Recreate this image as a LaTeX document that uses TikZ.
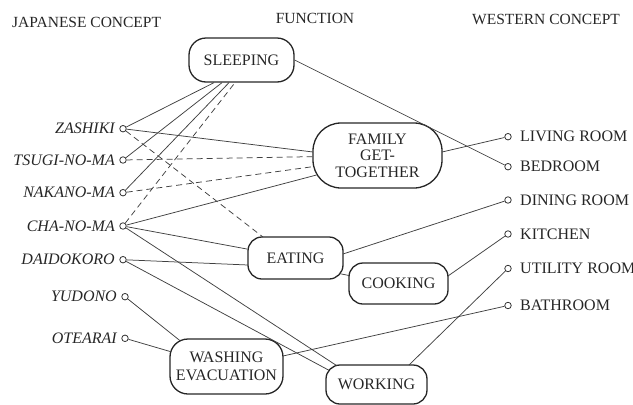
\documentclass[tikz,border=0pt]{standalone}
\usepackage{fontspec}
\setmainfont{Liberation Serif}
\usetikzlibrary{calc}
\newcommand\labfont{\fontsize{16}{16.5}\selectfont}
\newcommand\hdrfont{\fontsize{15.5}{16}\selectfont}
\begin{document}
\begin{tikzpicture}[x=1pt,y=-1pt,
  fn/.style={draw=black!85, line width=1.3pt, rounded corners=14pt, inner sep=0pt, align=center, font=\labfont, text=black!85},
  pin/.style={circle, draw=black!80, line width=0.8pt, minimum size=6.5pt, inner sep=0pt, fill=white},
  jlab/.style={anchor=east, inner sep=0pt, font=\labfont\itshape, text=black!85},
  wlab/.style={anchor=west, inner sep=0pt, font=\labfont, text=black!85},
  hdr/.style={anchor=base, inner sep=0pt, font=\hdrfont, text=black!85},
  con/.style={draw=black!75, line width=0.75pt},
  dsh/.style={con, dash pattern=on 6pt off 4pt},
]
\useasboundingbox (0,0) rectangle (633,405);

% headers
\node[hdr, anchor=base west] (h1) at (12,27) {JAPANESE CONCEPT};
\node[hdr] (h2) at (315,23.5) {FUNCTION};
\node[hdr, anchor=base west] (h3) at (472,24) {WESTERN CONCEPT};

% function boxes
\node[fn, minimum width=105pt, minimum height=44pt, rounded corners=17pt] (SL) at (241.5,60) {SLEEPING};
\node[fn, minimum width=129pt, minimum height=65pt, rounded corners=28pt] (FG) at (377.5,155.5) {FAMILY\\GET-\\TOGETHER};
\node[fn, minimum width=95pt, minimum height=42pt] (EA) at (295.5,258) {EATING};
\node[fn, minimum width=99pt, minimum height=41pt] (CO) at (398.5,283.5) {COOKING};
\node[fn, minimum width=113pt, minimum height=55pt, rounded corners=18pt, font=\fontsize{16}{17.5}\selectfont] (WE) at (226.5,366.5) {WASHING\\EVACUATION};
\node[fn, minimum width=101pt, minimum height=39pt] (WO) at (376.5,384.5) {WORKING};

% japanese pins and labels
\node[pin] (ZA) at (123,128.7) {};
\node[pin] (TS) at (123,160) {};
\node[pin] (NA) at (123,192.7) {};
\node[pin] (CH) at (123,226) {};
\node[pin] (DA) at (123,259.7) {};
\node[pin] (YU) at (125,296.7) {};
\node[pin] (OT) at (125,338.3) {};
\node[jlab] (lZA) at (115,128.7) {ZASHIKI};
\node[jlab] (lTS) at (115,160) {TSUGI-NO-MA};
\node[jlab] (lNA) at (115,192.7) {NAKANO-MA};
\node[jlab] (lCH) at (115,226) {CHA-NO-MA};
\node[jlab] (lDA) at (115,259.7) {DAIDOKORO};
\node[jlab] (lYU) at (117,296.7) {YUDONO};
\node[jlab] (lOT) at (117,338.3) {OTEARAI};

% western pins and labels
\node[pin] (LR) at (508,136.7) {};
\node[pin] (BE) at (508,166.7) {};
\node[pin] (DR) at (508,200) {};
\node[pin] (KI) at (508,234) {};
\node[pin] (UT) at (508,268.5) {};
\node[pin] (BA) at (508,305.5) {};
\node[wlab] (lLR) at (520,136.7) {LIVING ROOM};
\node[wlab] (lBE) at (520,166.7) {BEDROOM};
\node[wlab] (lDR) at (520,200) {DINING ROOM};
\node[wlab] (lKI) at (520,234) {KITCHEN};
\node[wlab] (lUT) at (520,268.5) {UTILITY ROOM};
\node[wlab] (lBA) at (520,305.5) {BATHROOM};

% connectors
\draw[con] (ZA) -- ([xshift=-27.5pt]SL.south);
\draw[con] (TS) -- ([xshift=-19.5pt]SL.south);
\draw[con] (NA) -- ([xshift=-12.5pt]SL.south);
\draw[dsh] (CH) -- ([xshift=-6.5pt]SL.south);
\draw[con] (SL.east) -- (BE);
\draw[con] (ZA) -- ($(FG.center)+(-64.5,-3.5)$);
\draw[dsh] (TS) -- (FG);
\draw[dsh] (NA) -- ($(FG.center)+(-63.5,11)$);
\draw[con] (CH) -- ($(FG.center)+(-61,19.5)$);
\draw[dsh] (ZA) -- ($(EA.center)+(-32.5,-21)$);
\draw[con] (CH) -- (EA);
\draw[con] (DA) -- ($(EA.center)+(-47.5,7)$);
\draw[con] (CH) -- ($(WO.center)+(-40,-19)$);
\draw[con] (DA) -- ($(WO.center)+(-47.5,-14.2)$);
\draw[con] (YU) -- ($(WE.center)+(-46.3,-25.7)$);
\draw[con] (OT) -- ($(WE.center)+(-55.7,-14.8)$);
\draw[con] ($(FG.center)+(64.5,-3.5)$) -- (LR);
\draw[con] ($(EA.center)+(47.5,-4)$) -- (DR);
\draw[con] ($(EA.center)+(43.5,15.5)$) -- ($(CO.center)+(-49.5,-8)$);
\draw[con] ($(CO.center)+(49.5,-7.5)$) -- (KI);
\draw[con] ($(WE.center)+(56.5,-10.5)$) -- (BA);
\draw[con] ($(WO.center)+(32.5,-19.5)$) -- (UT);
\end{tikzpicture}
\end{document}
